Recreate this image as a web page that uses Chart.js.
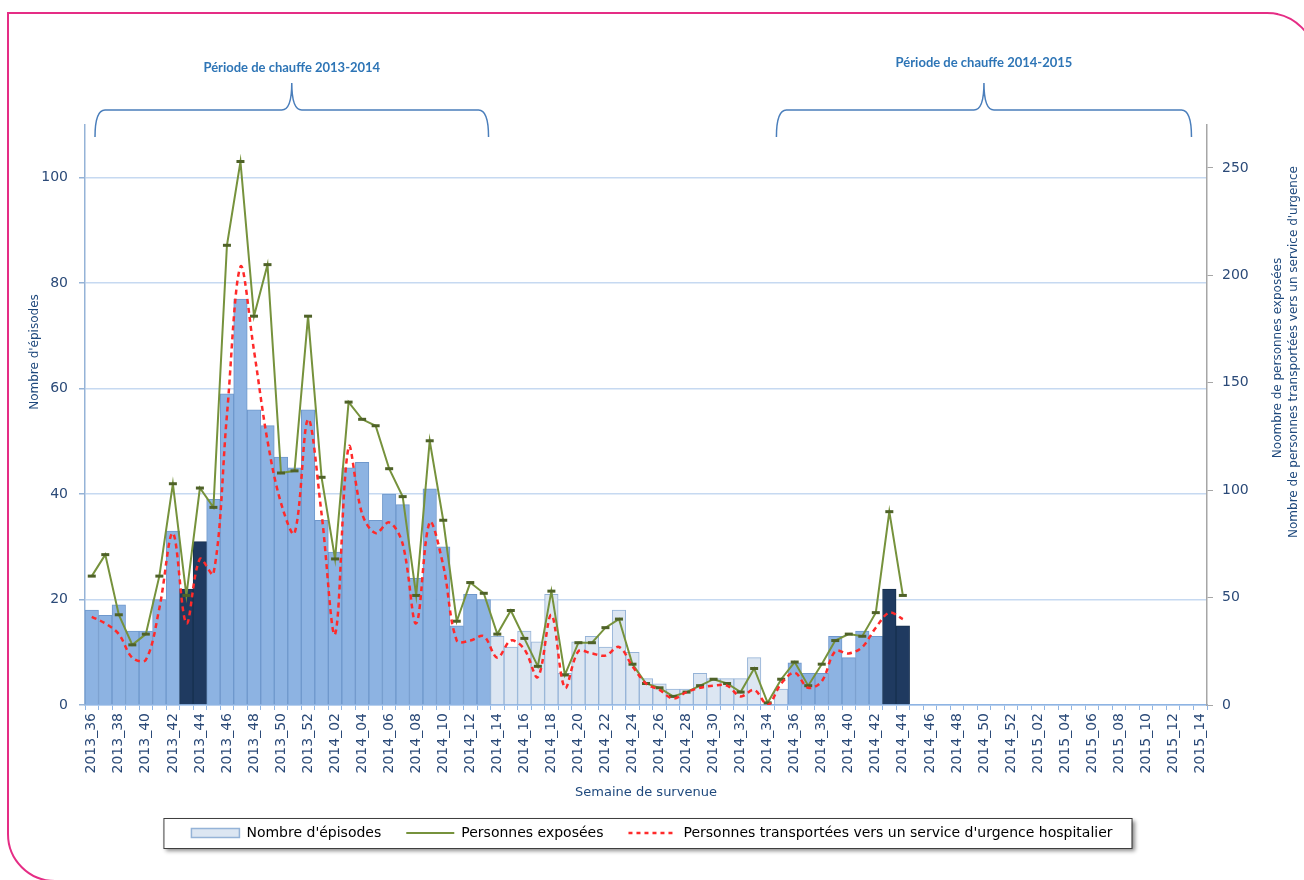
<!DOCTYPE html>
<html>
<head>
<meta charset="utf-8">
<script src="https://cdn.jsdelivr.net/npm/chart.js@4.4.0/dist/chart.umd.min.js"></script>
<style>
  html, body { margin: 0; padding: 0; background: #fff; }
  #wrap { position: relative; width: 1304px; height: 880px; overflow: hidden; }
  #frame {
    position: absolute; left: 7px; top: 12px; width: 1310px; height: 870px;
    box-sizing: border-box; border: 2px solid #e52d85;
    border-top-right-radius: 50px; border-bottom-left-radius: 48px;
    pointer-events: none;
  }
</style>
</head>
<body>
<div id="wrap">
  <canvas id="chart" width="1304" height="880"></canvas>
  <div id="frame"></div>
</div>
<script>
// semaines 2013_36 -> 2015_14
const weeks = [
  "2013_36", "2013_37", "2013_38", "2013_39", "2013_40", "2013_41", "2013_42", "2013_43", "2013_44",
  "2013_45", "2013_46", "2013_47", "2013_48", "2013_49", "2013_50", "2013_51", "2013_52",
  "2014_01", "2014_02", "2014_03", "2014_04", "2014_05", "2014_06", "2014_07", "2014_08", "2014_09",
  "2014_10", "2014_11", "2014_12", "2014_13", "2014_14", "2014_15", "2014_16", "2014_17", "2014_18",
  "2014_19", "2014_20", "2014_21", "2014_22", "2014_23", "2014_24", "2014_25", "2014_26", "2014_27",
  "2014_28", "2014_29", "2014_30", "2014_31", "2014_32", "2014_33", "2014_34", "2014_35", "2014_36",
  "2014_37", "2014_38", "2014_39", "2014_40", "2014_41", "2014_42", "2014_43", "2014_44", "2014_45",
  "2014_46", "2014_47", "2014_48", "2014_49", "2014_50", "2014_51", "2014_52",
  "2015_01", "2015_02", "2015_03", "2015_04", "2015_05", "2015_06", "2015_07", "2015_08", "2015_09",
  "2015_10", "2015_11", "2015_12", "2015_13", "2015_14"
];

const episodes = [
  18, 17, 19, 14, 14, 20, 33, 22, 31, 39,
  59, 77, 56, 53, 47, 45, 56, 35, 29, 45,
  46, 35, 40, 38, 24, 41, 30, 15, 21, 20,
  13, 11, 14, 12, 21, 6, 12, 13, 11, 18,
  10, 5, 4, 3, 3, 6, 5, 5, 5, 9,
  0, 3, 8, 6, 6, 13, 9, 14, 13, 22,
  15
];

const exposed = [
  60, 70, 42, 28, 33, 60, 103, 51, 101, 92,
  214, 253, 181, 205, 108, 109, 181, 106, 68, 141,
  133, 130, 110, 97, 51, 123, 86, 39, 57, 52,
  33, 44, 31, 18, 53, 14, 29, 29, 36, 40,
  19, 10, 8, 4, 6, 9, 12, 10, 6, 17,
  1, 12, 20, 9, 19, 30, 33, 32, 43, 90,
  51
];

const transported = [
  41, 38, 33, 22, 21, 45, 80, 38, 68, 61,
  135, 204, 165, 123, 94, 80, 133, 89, 33, 120,
  89, 80, 85, 75, 38, 85, 65, 30, 30, 32,
  22, 30, 26, 13, 42, 8, 25, 24, 23, 27,
  18, 10, 7, 3, 6, 8, 9, 9, 4, 7,
  0, 10, 15, 8, 11, 25, 24, 27, 36, 43,
  40
];

// semaines mises en évidence (barres foncées) et hors période de chauffe (barres claires)
const darkWeeks = ["2013_43", "2013_44", "2014_43", "2014_44"];
const offSeason = { first: "2014_14", last: "2014_35" };

const heatingPeriods = [
  { label: "Période de chauffe 2013-2014", first: "2013_36", last: "2014_13", insetL: 10, insetR: 2, textY: 68 },
  { label: "Période de chauffe 2014-2015", first: "2014_35", last: "2015_13", insetL: 2, insetR: 2, textY: 63 }
];

const textColor = "#2b4a78";
const titleColor = "#1f497d";

function barColors(i) {
  const w = weeks[i];
  if (darkWeeks.includes(w)) return { fill: "#1f3a60", border: "#17304f" };
  const a = weeks.indexOf(offSeason.first);
  const b = weeks.indexOf(offSeason.last);
  if (i >= a && i <= b) return { fill: "#dce6f2", border: "#95b3d7" };
  return { fill: "#8db3e2", border: "#6f98cc" };
}

function drawBrace(ctx, x0, x1, yTip, yMid, yEnd) {
  const xm = (x0 + x1) / 2;
  const r = 10;
  ctx.beginPath();
  ctx.moveTo(x0, yEnd);
  ctx.quadraticCurveTo(x0, yMid, x0 + r, yMid);
  ctx.lineTo(xm - r, yMid);
  ctx.quadraticCurveTo(xm, yMid, xm, yTip);
  ctx.quadraticCurveTo(xm, yMid, xm + r, yMid);
  ctx.lineTo(x1 - r, yMid);
  ctx.quadraticCurveTo(x1, yMid, x1, yEnd);
  ctx.stroke();
}

function drawVertical(ctx, text, cx, cy) {
  ctx.save();
  ctx.translate(cx, cy);
  ctx.rotate(-Math.PI / 2);
  ctx.textAlign = "center";
  ctx.textBaseline = "middle";
  ctx.fillText(text, 0, 0);
  ctx.restore();
}

const decorations = {
  id: "decorations",
  beforeDraw(chart) {
    // cadre de la légende
    const boxes = chart.legend.legendHitBoxes;
    if (!boxes || !boxes.length) return;
    const first = boxes[0];
    const last = boxes[boxes.length - 1];
    const left = first.left - 28;
    const right = last.left + last.width + 19;
    const top = first.top - 8;
    const bottom = first.top + first.height + 8;
    const ctx = chart.ctx;
    ctx.save();
    ctx.shadowColor = "rgba(0,0,0,0.45)";
    ctx.shadowOffsetX = 3;
    ctx.shadowOffsetY = 3;
    ctx.shadowBlur = 4;
    ctx.fillStyle = "#ffffff";
    ctx.fillRect(left, top, right - left, bottom - top);
    ctx.restore();
    ctx.save();
    ctx.strokeStyle = "#3f3f3f";
    ctx.lineWidth = 1;
    ctx.strokeRect(left + 0.5, top + 0.5, right - left, bottom - top);
    ctx.restore();
  },
  afterDraw(chart) {
    const { ctx, chartArea } = chart;
    const x = chart.scales.x;
    const half = (x.getPixelForValue(1) - x.getPixelForValue(0)) / 2;

    ctx.save();
    ctx.strokeStyle = "#4a7ebb";
    ctx.lineWidth = 1.5;
    ctx.fillStyle = "#2e75b6";
    ctx.font = "bold 13px Lato";
    ctx.textAlign = "center";
    ctx.textBaseline = "middle";
    heatingPeriods.forEach((p) => {
      const x0 = x.getPixelForValue(weeks.indexOf(p.first)) - half + p.insetL;
      const x1 = x.getPixelForValue(weeks.indexOf(p.last)) + half - p.insetR;
      drawBrace(ctx, x0, x1, 83, 110, 137);
      ctx.fillText(p.label, (x0 + x1) / 2, p.textY);
    });
    ctx.restore();

    // titres des axes verticaux
    ctx.save();
    ctx.fillStyle = titleColor;
    ctx.font = "12px 'DejaVu Sans'";
    const cy = chartArea.top + 227;
    drawVertical(ctx, "Nombre d'épisodes", chartArea.left - 50, cy);
    drawVertical(ctx, "Noombre de personnes exposées", chartArea.right + 71, cy + 6);
    drawVertical(ctx, "Nombre de personnes transportées vers un service d'urgence", chartArea.right + 87, cy);
    ctx.restore();
  }
};

Chart.defaults.font.family = "'DejaVu Sans'";

const ctx = document.getElementById("chart").getContext("2d");
const chart = new Chart(ctx, {
  type: "bar",
  data: {
    labels: weeks,
    datasets: [
      {
        type: "bar",
        label: "Nombre d'épisodes",
        data: episodes,
        yAxisID: "y",
        order: 3,
        categoryPercentage: 1,
        barPercentage: 1,
        borderWidth: 1,
        backgroundColor: (c) => barColors(c.dataIndex).fill,
        borderColor: (c) => barColors(c.dataIndex).border
      },
      {
        type: "line",
        label: "Personnes exposées",
        data: exposed,
        yAxisID: "y2",
        order: 2,
        borderColor: "#76923c",
        borderWidth: 2,
        tension: 0,
        pointStyle: "line",
        pointRadius: 4,
        pointBorderWidth: 3,
        pointBorderColor: "#4f6228",
        pointBackgroundColor: "#4f6228"
      },
      {
        type: "line",
        label: "Personnes transportées vers un service d'urgence hospitalier",
        data: transported,
        yAxisID: "y2",
        order: 1,
        borderColor: "#ff2a2a",
        borderWidth: 2.5,
        borderDash: [5, 4],
        tension: 0.35,
        pointRadius: 0
      }
    ]
  },
  options: {
    responsive: false,
    animation: false,
    devicePixelRatio: 1,
    layout: { padding: { top: 125, left: 0, right: 0, bottom: 30 } },
    plugins: {
      tooltip: { enabled: false },
      legend: {
        position: "bottom",
        labels: {
          usePointStyle: true,
          pointStyleWidth: 48,
          boxHeight: 9,
          padding: 25,
          color: textColor,
          font: { size: 14 },
          generateLabels: () => [
            { text: "Nombre d'épisodes", fillStyle: "#dce6f2", strokeStyle: "#95b3d7", lineWidth: 1.5, pointStyle: "rect", datasetIndex: 0 },
            { text: "Personnes exposées", fillStyle: "#76923c", strokeStyle: "#76923c", lineWidth: 2, pointStyle: "line", datasetIndex: 1 },
            { text: "Personnes transportées vers un service d'urgence hospitalier", fillStyle: "#ff2a2a", strokeStyle: "#ff2a2a", lineWidth: 2.5, lineDash: [4, 4], pointStyle: "line", datasetIndex: 2 }
          ]
        }
      }
    },
    scales: {
      x: {
        offset: true,
        grid: { offset: true, drawOnChartArea: false, drawTicks: true, tickLength: 5, color: "#8eb4e3" },
        border: { color: "#8eb4e3", width: 1.5 },
        ticks: {
          autoSkip: false,
          maxRotation: 90,
          minRotation: 90,
          padding: 3,
          color: textColor,
          font: { size: 14 },
          callback: (v, i) => (i % 2 === 0 ? weeks[i] : "")
        },
        title: {
          display: true,
          text: "Semaine de survenue",
          color: titleColor,
          font: { size: 13 },
          padding: { top: 4, bottom: 1 }
        },
        afterFit: (s) => { s.height = 96; }
      },
      y: {
        position: "left",
        min: 0,
        max: 110,
        ticks: { stepSize: 20, includeBounds: false, padding: 11, color: textColor, font: { size: 14 } },
        grid: { color: "#c6d9f1", lineWidth: 1.5, tickLength: 6, tickColor: "#95b3d7" },
        border: { color: "#95b3d7", width: 1.5 },
        afterFit: (s) => { s.width = 85; }
      },
      y2: {
        position: "right",
        min: 0,
        max: 270,
        ticks: { stepSize: 50, includeBounds: false, padding: 9, color: textColor, font: { size: 14 } },
        grid: { drawOnChartArea: false, tickLength: 6, tickColor: "#a6a6a6" },
        border: { color: "#a6a6a6", width: 1.5 },
        afterFit: (s) => { s.width = 97; }
      }
    }
  },
  plugins: [decorations]
});
</script>
</body>
</html>
